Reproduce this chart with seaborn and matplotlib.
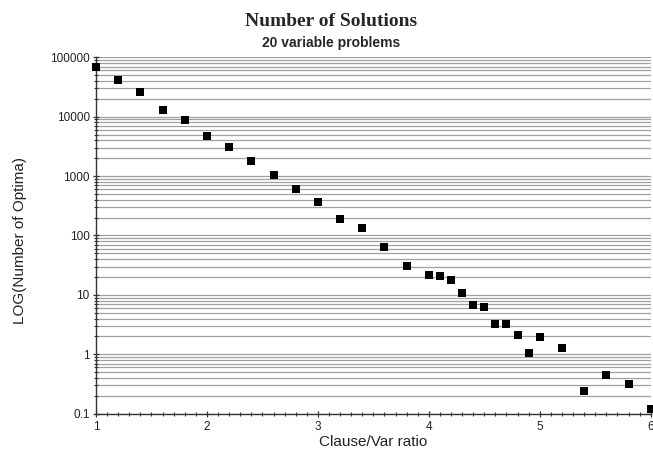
import matplotlib
matplotlib.use("Agg")
import matplotlib.pyplot as plt
import numpy as np
import seaborn as sns
from matplotlib.ticker import FixedLocator, LogLocator, NullFormatter

# values
clause_var_ratio = [1.0, 1.2, 1.4, 1.6, 1.8, 2.0, 2.2, 2.4, 2.6, 2.8, 3.0, 3.2, 3.4, 3.6, 3.8,
                    4.0, 4.1, 4.2, 4.3, 4.4, 4.5, 4.6, 4.7, 4.8, 4.9, 5.0, 5.2, 5.4, 5.6, 5.8, 6.0]
num_optima = [69500, 41500, 25800, 13100, 8700, 4790, 3090, 1800, 1043, 607, 362, 190, 135, 65, 31,
              21.6, 20.8, 17.8, 10.8, 6.8, 6.3, 3.24, 3.26, 2.11, 1.05, 1.95, 1.26, 0.241, 0.443, 0.32, 0.12]

y_ticks = [0.1, 1, 10, 100, 1000, 10000, 100000]
y_tick_labels = ["0.1", "1", "10", "100", "1000", "10000", "100000"]
x_ticks = [1, 2, 3, 4, 5, 6]

sns.set_theme(style="white")
plt.rcParams['font.family'] = ['Liberation Sans', 'DejaVu Sans']

fig = plt.figure(figsize=(6.53, 4.57), dpi=100)
ax = fig.add_axes([96 / 653, 1 - 413.7 / 457, (650.7 - 96) / 653, (413.7 - 57.3) / 457])

ax.set_yscale("log")
ax.set_xlim(1, 6)
ax.set_ylim(0.1, 100000)

# horizontal grid at every log step
ax.yaxis.set_major_locator(FixedLocator(y_ticks))
ax.yaxis.set_minor_locator(LogLocator(base=10, subs=np.arange(2, 10)))
ax.yaxis.set_minor_formatter(NullFormatter())
ax.set_yticklabels(y_tick_labels)
ax.grid(True, which="both", axis="y", color="#a0a0a0", linewidth=0.9)
ax.grid(False, axis="x")
ax.set_axisbelow(True)

sns.scatterplot(x=clause_var_ratio, y=num_optima, ax=ax, marker="s", color="black",
                s=38, linewidth=0, clip_on=False, zorder=5)

ax.set_xticks(x_ticks)
ax.set_xticklabels([str(v) for v in x_ticks])
ax.xaxis.set_minor_locator(FixedLocator(np.arange(1, 6.01, 0.1)))

for s in ["top", "right"]:
    ax.spines[s].set_visible(False)
for s in ["left", "bottom"]:
    ax.spines[s].set_color("#333333")
    ax.spines[s].set_linewidth(1.0)

ax.tick_params(axis="both", which="both", bottom=True, left=True)
ax.tick_params(axis="both", which="major", direction="inout", length=5, width=0.9,
               color="#333333", labelsize=8.5, labelcolor="#222222")
ax.tick_params(axis="both", which="minor", direction="inout", length=3, width=0.8,
               color="#333333")
ax.tick_params(axis="y", which="major", pad=2)
ax.tick_params(axis="x", which="major", pad=3)
ax.set_xlabel("")
ax.set_ylabel("")

fig.text(331 / 653, 1 - 26 / 457, "Number of Solutions", ha="center", va="baseline",
         fontsize=14, fontweight="bold", family=["Liberation Serif", "DejaVu Serif"])
fig.text(331 / 653, 1 - 46.7 / 457, "20 variable problems", ha="center", va="baseline",
         fontsize=10, fontweight="bold")
fig.text(20 / 653, 1 - 240 / 457, "LOG(Number of Optima)", ha="center", va="center",
         rotation=90, fontsize=11, color="#222222")
fig.text(373 / 653, 1 - 446 / 457, "Clause/Var ratio", ha="center", va="baseline",
         fontsize=11, color="#222222")

fig.savefig("out.png", dpi=100)
